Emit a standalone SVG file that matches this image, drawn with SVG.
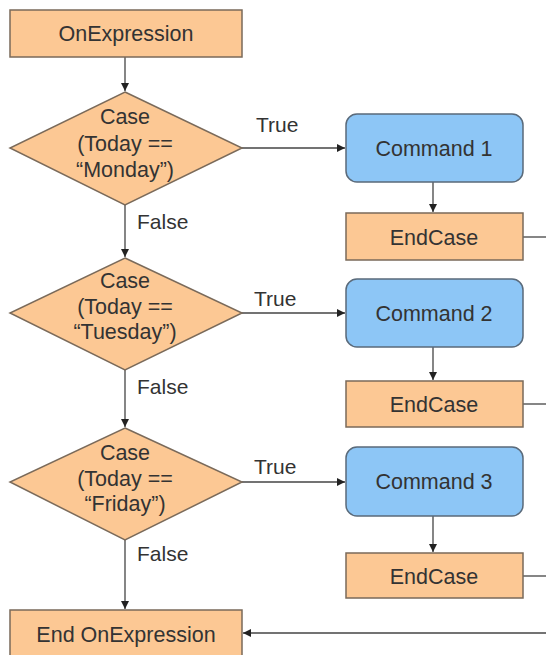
<svg xmlns="http://www.w3.org/2000/svg" width="546" height="655" viewBox="0 0 546 655">
<style>
.o{fill:#fcc894;stroke:#7a6a5a;stroke-width:1.5}
.b{fill:#8dc6f6;stroke:#5a6a7a;stroke-width:1.5}
.t{font-family:"Liberation Sans",Arial,sans-serif;font-size:21.5px;fill:#333;text-anchor:middle}
.l{font-family:"Liberation Sans",Arial,sans-serif;font-size:21px;fill:#333}
.c{fill:none;stroke:#444;stroke-width:1.3}
</style>
<defs>
<marker id="a" markerWidth="10" markerHeight="10" refX="8" refY="4" orient="auto" markerUnits="userSpaceOnUse">
<path d="M0,0 L8,4 L0,8 z" fill="#222"/>
</marker>
</defs>
<rect width="546" height="655" fill="#fff"/>
<g id="connectors">
<line class="c" x1="125" y1="57" x2="125" y2="91" marker-end="url(#a)"/>
<line class="c" x1="242" y1="148" x2="345" y2="148" marker-end="url(#a)"/>
<line class="c" x1="433" y1="182" x2="433" y2="212" marker-end="url(#a)"/>
<line class="c" x1="523" y1="237" x2="546" y2="237"/>
<line class="c" x1="125" y1="205" x2="125" y2="257" marker-end="url(#a)"/>
<line class="c" x1="242" y1="313" x2="345" y2="313" marker-end="url(#a)"/>
<line class="c" x1="433" y1="347" x2="433" y2="380" marker-end="url(#a)"/>
<line class="c" x1="523" y1="404" x2="546" y2="404"/>
<line class="c" x1="125" y1="370" x2="125" y2="427" marker-end="url(#a)"/>
<line class="c" x1="242" y1="482" x2="345" y2="482" marker-end="url(#a)"/>
<line class="c" x1="433" y1="516" x2="433" y2="552" marker-end="url(#a)"/>
<line class="c" x1="523" y1="576" x2="546" y2="576"/>
<line class="c" x1="125" y1="540" x2="125" y2="609" marker-end="url(#a)"/>
<line class="c" x1="546" y1="633" x2="243" y2="633" marker-end="url(#a)"/>
<text class="l" x="256" y="132">True</text>
<text class="l" x="254" y="306">True</text>
<text class="l" x="254" y="474">True</text>
<text class="l" x="137" y="229">False</text>
<text class="l" x="137" y="394">False</text>
<text class="l" x="137" y="561">False</text>
</g>
<g id="onexpression">
<rect class="o" x="10" y="10" width="232" height="47"/>
<text class="t" x="126" y="41">OnExpression</text>
</g>
<g id="case1">
<polygon class="o" points="125,92 242,148 125,205 10,148"/>
<text class="t" x="125" y="124">Case</text>
<text class="t" x="125" y="151">(Today ==</text>
<text class="t" x="125" y="177">“Monday”)</text>
</g>
<g id="command1">
<rect class="b" x="346" y="114" width="177" height="68" rx="11"/>
<text class="t" x="434" y="156">Command 1</text>
</g>
<g id="endcase1">
<rect class="o" x="346" y="213" width="177" height="47"/>
<text class="t" x="434" y="245">EndCase</text>
</g>
<g id="case2">
<polygon class="o" points="125,258 242,313 125,370 10,313"/>
<text class="t" x="125" y="288">Case</text>
<text class="t" x="125" y="314">(Today ==</text>
<text class="t" x="125" y="339">“Tuesday”)</text>
</g>
<g id="command2">
<rect class="b" x="346" y="279" width="177" height="68" rx="11"/>
<text class="t" x="434" y="321">Command 2</text>
</g>
<g id="endcase2">
<rect class="o" x="346" y="381" width="177" height="46"/>
<text class="t" x="434" y="412">EndCase</text>
</g>
<g id="case3">
<polygon class="o" points="125,428 242,482 125,540 10,482"/>
<text class="t" x="125" y="460">Case</text>
<text class="t" x="125" y="486">(Today ==</text>
<text class="t" x="125" y="511">“Friday”)</text>
</g>
<g id="command3">
<rect class="b" x="346" y="447" width="177" height="69" rx="11"/>
<text class="t" x="434" y="489">Command 3</text>
</g>
<g id="endcase3">
<rect class="o" x="346" y="553" width="177" height="45"/>
<text class="t" x="434" y="584">EndCase</text>
</g>
<g id="endonexpression">
<rect class="o" x="10" y="610" width="232" height="50"/>
<text class="t" x="126" y="642">End OnExpression</text>
</g>
</svg>
